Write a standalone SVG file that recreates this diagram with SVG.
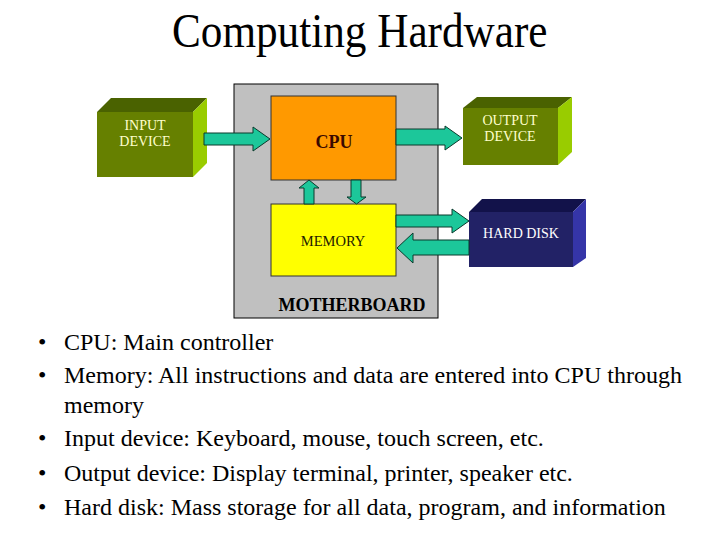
<svg xmlns="http://www.w3.org/2000/svg" width="720" height="540" viewBox="0 0 720 540">
<style>
.serif{font-family:"Liberation Serif","Times New Roman",serif}
.lbl{font-family:"Liberation Serif","Times New Roman",serif;font-size:14px;fill:#FFFFCC;text-anchor:middle}
.arrow{fill:#1CC79A;stroke:#0A3A2C;stroke-width:1;stroke-linejoin:miter}
.bul{font-family:"Liberation Serif","Times New Roman",serif;font-size:24px;fill:#000000}
</style>
<rect width="720" height="540" fill="#FFFFFF"/>
<text class="serif" transform="translate(172,47) scale(0.9,1)" x="0" y="0" font-size="48" fill="#000">Computing Hardware</text>

<g id="motherboard">
<rect x="234" y="84" width="204" height="234" fill="#C0C0C0" stroke="#000" stroke-width="1"/>
<text class="serif" x="352" y="311" font-size="18" font-weight="bold" text-anchor="middle" fill="#000">MOTHERBOARD</text>
</g>

<g id="cpu">
<rect x="271" y="96" width="125" height="84" fill="#FF9900" stroke="#333" stroke-width="1"/>
<text class="serif" x="334" y="148" font-size="18" font-weight="bold" text-anchor="middle" fill="#3A0A00">CPU</text>
</g>

<g id="memory">
<rect x="271" y="204" width="125" height="72" fill="#FFFF00" stroke="#333" stroke-width="1"/>
<text class="serif" x="333" y="246" font-size="14.5" text-anchor="middle" fill="#222200">MEMORY</text>
</g>

<g id="input-device">
<polygon points="97,112 111,98 207,98 193,112" fill="#4A6200"/>
<polygon points="193,112 207,98 207,163 193,177" fill="#99CC00"/>
<rect x="97" y="112" width="96" height="65" fill="#668000"/>
<text class="lbl" x="145" y="130">INPUT</text>
<text class="lbl" x="145" y="146">DEVICE</text>
</g>

<g id="output-device">
<polygon points="463,108 477,97 572,97 558,108" fill="#4A6200"/>
<polygon points="558,108 572,97 572,152 558,165" fill="#99CC00"/>
<rect x="463" y="108" width="95" height="57" fill="#668000"/>
<text class="lbl" x="510" y="125">OUTPUT</text>
<text class="lbl" x="510" y="141">DEVICE</text>
</g>

<g id="hard-disk">
<polygon points="469,212 482,199 586,199 573,212" fill="#12124A"/>
<polygon points="573,212 586,199 586,258 573,267" fill="#3535A8"/>
<rect x="469" y="212" width="104" height="55" fill="#222266"/>
<text class="lbl" x="521" y="238" style="fill:#FFFFFF">HARD DISK</text>
</g>

<g id="connectors">
<polygon class="arrow" points="204,133 253,133 253,127 270,139 253,151 253,145 204,145"/>
<polygon class="arrow" points="396,129 445,129 445,126 462,138 445,150 445,145 396,145"/>
<polygon class="arrow" points="304,204 304,188 299,188 309,180 319,188 314,188 314,204"/>
<polygon class="arrow" points="351,180 361,180 361,197 366,197 356.5,204 347,197 351,197"/>
<polygon class="arrow" points="396,215 452,215 452,209 469,221 452,233 452,227 396,227"/>
<polygon class="arrow" points="469,240 413,240 413,233 397,248 413,263 413,255 469,255"/>
</g>

<g id="bullets">
<text class="bul" x="38" y="350">•</text><text class="bul" x="64" y="350">CPU: Main controller</text>
<text class="bul" x="38" y="383">•</text><text class="bul" x="64" y="383">Memory: All instructions and data are entered into CPU through</text>
<text class="bul" x="64" y="413">memory</text>
<text class="bul" x="38" y="446">•</text><text class="bul" x="64" y="446">Input device: Keyboard, mouse, touch screen, etc.</text>
<text class="bul" x="38" y="481">•</text><text class="bul" x="64" y="481">Output device: Display terminal, printer, speaker etc.</text>
<text class="bul" x="38" y="515">•</text><text class="bul" x="64" y="515">Hard disk: Mass storage for all data, program, and information</text>
</g>
</svg>
